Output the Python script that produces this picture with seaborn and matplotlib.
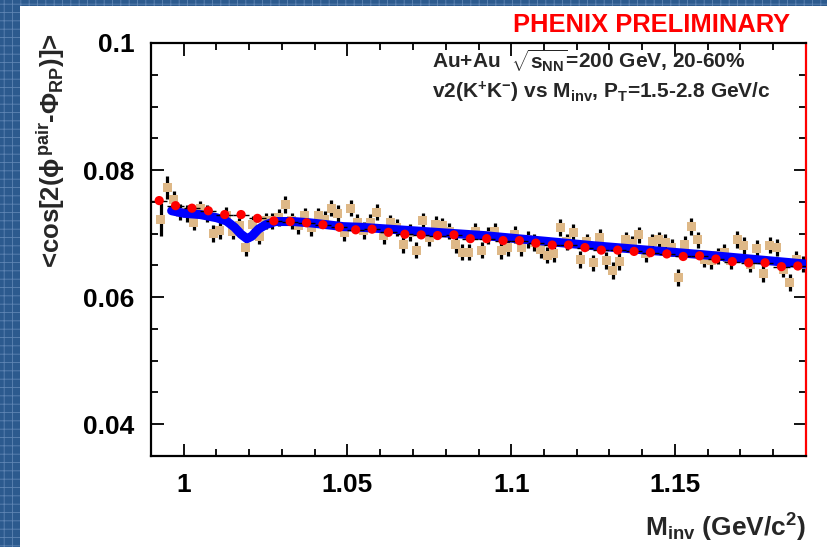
import numpy as np
import pandas as pd
import matplotlib
matplotlib.use('Agg')
import matplotlib.pyplot as plt
import seaborn as sns
from matplotlib.patches import Rectangle
from matplotlib.ticker import MultipleLocator, FuncFormatter

# ---------------- data ----------------
# fine bins (tan squares): bin centres 0.993 ... 1.189, width 0.002
tan_x = np.round(np.arange(0.993, 1.1895, 0.002), 4)
tan_y = [0.0722, 0.0772, 0.0754, 0.0734, 0.0732, 0.0718, 0.0739, 0.0732, 0.0700, 0.0705,
         0.0729, 0.0704, 0.0712, 0.0678, 0.0714, 0.0696, 0.0720, 0.0720, 0.0725, 0.0746,
         0.0720, 0.0712, 0.0728, 0.0710, 0.0728, 0.0723, 0.0740, 0.0732, 0.0701, 0.0740,
         0.0718, 0.0705, 0.0718, 0.0734, 0.0697, 0.0717, 0.0710, 0.0683, 0.0702, 0.0674,
         0.0720, 0.0694, 0.0715, 0.0712, 0.0704, 0.0683, 0.0671, 0.0671, 0.0704, 0.0674,
         0.0697, 0.0704, 0.0673, 0.0678, 0.0699, 0.0678, 0.0691, 0.0686, 0.0675, 0.0666,
         0.0668, 0.0710, 0.0687, 0.0702, 0.0659, 0.0687, 0.0654, 0.0694, 0.0658, 0.0642,
         0.0656, 0.0690, 0.0684, 0.0698, 0.0668, 0.0687, 0.0690, 0.0686, 0.0678, 0.0631,
         0.0683, 0.0711, 0.0690, 0.0660, 0.0657, 0.0665, 0.0670, 0.0657, 0.0691, 0.0681,
         0.0652, 0.0677, 0.0637, 0.0682, 0.0678, 0.0644, 0.0623, 0.0660, 0.0652]
tan_err = [0.0026, 0.0018] + [0.0013] * 97

# coarse bins (red points): bin centres 0.9925 ... 1.1875, width 0.005
red_x = np.round(np.arange(0.9925, 1.1880, 0.005), 4)
red_y = [0.0752, 0.0744, 0.0740, 0.0736, 0.0730, 0.0730, 0.0724,
         0.0720, 0.0719, 0.0717, 0.0714, 0.0710, 0.0706, 0.0707,
         0.0702, 0.0699, 0.0698, 0.0697, 0.0698, 0.0692,
         0.0692, 0.0689, 0.0689, 0.0685, 0.0682, 0.0682, 0.0678,
         0.0674, 0.0674, 0.0672, 0.0670, 0.0668, 0.0664, 0.0665,
         0.0660, 0.0656, 0.0654, 0.0654, 0.0648, 0.0649]
red_xerr = 0.0025

# fit curve (blue)
blue_x = [0.9963, 1.0000, 1.0050, 1.0100, 1.0130, 1.0155, 1.0175, 1.0193, 1.0208,
          1.0228, 1.0250, 1.0280, 1.0335, 1.0385, 1.0437, 1.0487, 1.0540, 1.0570,
          1.0915, 1.1250, 1.1580, 1.1900]
blue_y = [0.0736, 0.0732, 0.0730, 0.0725, 0.0720, 0.0710, 0.0699, 0.0692, 0.0696,
          0.0707, 0.0714, 0.0719, 0.0719, 0.0717, 0.0714, 0.0711, 0.0710, 0.0709,
          0.0697, 0.0681, 0.0667, 0.0652]

x_ticks = [1.0, 1.05, 1.1, 1.15]
y_ticks = [0.04, 0.06, 0.08, 0.1]

# ---------------- style ----------------
sns.set_style('ticks')
plt.rcParams['font.family'] = ['Liberation Sans', 'DejaVu Sans']
plt.rcParams['font.weight'] = 'bold'
plt.rcParams['mathtext.fontset'] = 'custom'
plt.rcParams['mathtext.rm'] = 'Liberation Sans:bold'
plt.rcParams['mathtext.it'] = 'Liberation Sans:bold'
plt.rcParams['mathtext.bf'] = 'Liberation Sans:bold'
plt.rcParams['mathtext.sf'] = 'Liberation Sans:bold'
plt.rcParams['hatch.linewidth'] = 0.6

fig = plt.figure(figsize=(8.27, 5.47), dpi=100)
fig.patch.set_facecolor('white')
# textured blue frame
fig.patches.append(Rectangle((0, 0), 1, 1, transform=fig.transFigure,
                             facecolor='#2C5A8E', edgecolor='#5E84B3',
                             hatch='++', linewidth=0, zorder=-10))
fig.patches.append(Rectangle((20 / 827, 0), 1, 1 - 6 / 547, transform=fig.transFigure,
                             facecolor='white', edgecolor='none', zorder=-9))

ax = fig.add_axes([151 / 827, 1 - 456 / 547, (806 - 151) / 827, (456 - 43) / 547])
ax.set_facecolor('white')

# tan fine-bin points
ax.errorbar(tan_x, tan_y, yerr=tan_err, fmt='none', ecolor='black',
            elinewidth=2.3, capsize=0, zorder=2)
sns.scatterplot(x=tan_x, y=tan_y, marker='s', s=42, color='#DEB887',
                edgecolor='none', linewidth=0, ax=ax, zorder=3)

# blue fit line
sns.lineplot(x=blue_x, y=blue_y, color='#0000FF', linewidth=6.5, sort=False,
             ax=ax, zorder=4)

# red coarse-bin points
ax.errorbar(red_x, red_y, xerr=red_xerr, fmt='none', ecolor='black',
            elinewidth=1.0, capsize=0, zorder=5)
sns.scatterplot(x=red_x, y=red_y, marker='o', s=44, color='#FF0000',
                edgecolor='none', linewidth=0, ax=ax, zorder=6)

ax.set_xlim(0.99, 1.19)
ax.set_ylim(0.035, 0.1)
ax.set_xticks(x_ticks)
ax.set_yticks(y_ticks)
ax.xaxis.set_minor_locator(MultipleLocator(0.01))
ax.yaxis.set_minor_locator(MultipleLocator(0.005))
fmt = FuncFormatter(lambda v, p: f'{v:g}')
ax.xaxis.set_major_formatter(fmt)
ax.yaxis.set_major_formatter(fmt)
ax.tick_params(which='both', direction='in', top=True, right=True, width=1.3,
               colors='black', labelsize=19)
ax.tick_params(which='major', length=9)
ax.tick_params(which='minor', length=5)
ax.tick_params(axis='x', which='major', pad=12)
ax.tick_params(axis='y', which='major', pad=12)
for lab in ax.get_xticklabels() + ax.get_yticklabels():
    lab.set_fontweight('bold')
for side in ['left', 'bottom', 'top', 'right']:
    ax.spines[side].set_visible(True)
    ax.spines[side].set_linewidth(1.6)
    ax.spines[side].set_color('black')
ax.spines['right'].set_color('#FF0000')

ax.set_xlabel(r'M$_{inv}$ (GeV/c$^{2}$)', fontsize=19, fontweight='bold')
ax.xaxis.set_label_coords(1.0, -0.135)
ax.xaxis.label.set_horizontalalignment('right')
ax.set_ylabel(r'<cos[2($\phi^{pair}$-$\Phi_{RP}$)]>', fontsize=18.5, fontweight='bold')
ax.yaxis.set_label_coords(-0.177, 1.024)
ax.yaxis.label.set_verticalalignment('top')
ax.yaxis.label.set_horizontalalignment('right')

fig.text(790 / 827, 1 - 25 / 547, 'PHENIX PRELIMINARY', color='#FF0000',
         fontsize=18.4, fontweight='bold', ha='right', va='center')
fig.text(432 / 827, 1 - 68 / 547, r'Au+Au  $\sqrt{s_{NN}}$=200 GeV, 20-60%',
         fontsize=15, fontweight='bold', ha='left', va='baseline')
fig.text(432 / 827, 1 - 98 / 547, r'v2(K$^{+}$K$^{-}$) vs M$_{inv}$, P$_{T}$=1.5-2.8 GeV/c',
         fontsize=15, fontweight='bold', ha='left', va='baseline')

fig.savefig('out.png', dpi=100, facecolor=fig.get_facecolor())
